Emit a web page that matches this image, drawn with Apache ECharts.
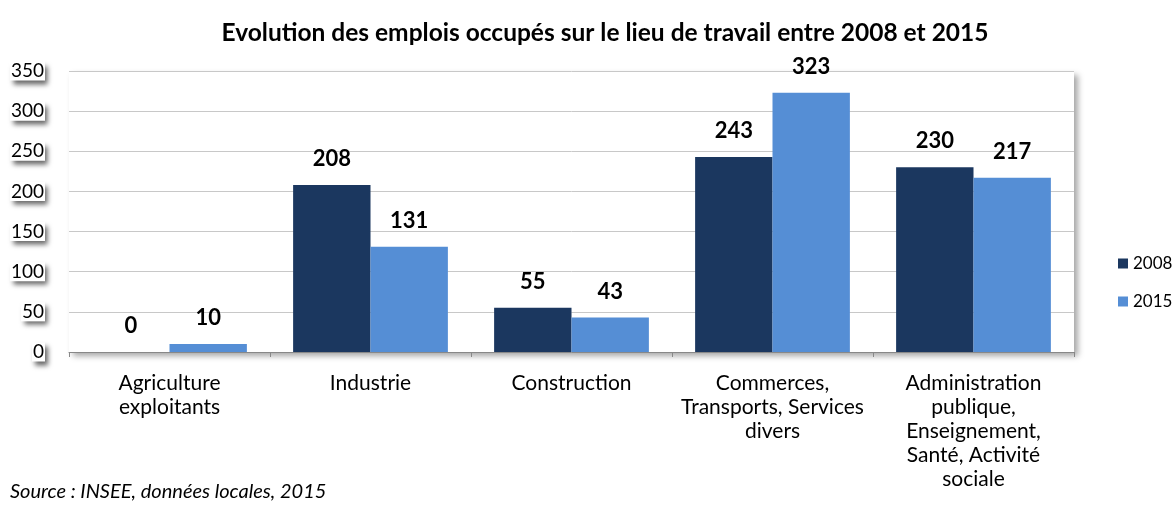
<!DOCTYPE html>
<html>
<head>
<meta charset="utf-8">
<script src="https://cdn.jsdelivr.net/npm/echarts@6/dist/echarts.min.js"></script>
<style>
  html, body { margin: 0; padding: 0; background: #fff; }
  #chart { width: 1176px; height: 506px; }
</style>
</head>
<body>
<div id="chart"></div>
<script>
// categories and values
const categories = [
  'Agriculture\nexploitants',
  'Industrie',
  'Construction',
  'Commerces,\nTransports, Services\ndivers',
  'Administration\npublique,\nEnseignement,\nSanté, Activité\nsociale'
]
const values2008 = [0, 208, 55, 243, 230]
const values2015 = [10, 131, 43, 323, 217]
const yTicks = [0, 50, 100, 150, 200, 250, 300, 350]

const font = 'Lato, "Open Sans", sans-serif'
const chart = echarts.init(document.getElementById('chart'))

const labelStyle = {
  show: true,
  position: 'top',
  distance: 15,
  color: '#000',
  fontWeight: 'bold',
  fontSize: 22,
  fontFamily: font
}

chart.setOption({
  animation: false,
  title: {
    text: 'Evolution des emplois occupés sur le lieu de travail entre 2008 et 2015',
    left: 600,
    textAlign: 'center',
    top: 16,
    textStyle: { fontSize: 24.5, fontWeight: 'bold', color: '#000', fontFamily: font }
  },
  graphic: [{
    type: 'text',
    left: 10,
    top: 482,
    style: {
      text: 'Source : INSEE, données locales, 2015',
      font: 'italic 20px ' + font,
      fill: '#000'
    }
  }],
  legend: {
    orient: 'vertical',
    left: 1113,
    top: 250,
    itemWidth: 10,
    itemHeight: 10,
    itemGap: 21,
    icon: 'rect',
    textStyle: { fontSize: 17, color: '#000', fontFamily: font },
    data: ['2008', '2015']
  },
  grid: {
    left: 69,
    right: 102,
    top: 71,
    bottom: 154,
    show: true,
    backgroundColor: '#fff',
    borderWidth: 0,
    shadowColor: 'rgba(0,0,0,0.35)',
    shadowBlur: 6,
    shadowOffsetX: 4,
    shadowOffsetY: 4
  },
  xAxis: {
    type: 'category',
    data: categories,
    axisLine: { lineStyle: { color: '#888', width: 1 } },
    axisTick: { show: true, length: 5, lineStyle: { color: '#888' } },
    axisLabel: {
      color: '#000',
      fontSize: 21,
      fontFamily: font,
      lineHeight: 24,
      margin: 19,
      interval: 0
    }
  },
  yAxis: {
    type: 'value',
    min: yTicks[0],
    max: yTicks[yTicks.length - 1],
    interval: 50,
    axisLine: { show: false },
    axisTick: { show: false },
    splitLine: { lineStyle: { color: '#c8c8c8', width: 1 } },
    axisLabel: {
      color: '#000',
      fontSize: 19,
      fontFamily: font,
      margin: 24,
      backgroundColor: '#fff',
      padding: [0, 1, 0, 1],
      shadowColor: 'rgba(0,0,0,0.6)',
      shadowBlur: 5,
      shadowOffsetX: 3,
      shadowOffsetY: 4
    }
  },
  series: [
    {
      name: '2008',
      type: 'bar',
      data: values2008,
      barGap: '0%',
      barCategoryGap: '23%',
      itemStyle: { color: '#1B375F' },
      label: labelStyle
    },
    {
      name: '2015',
      type: 'bar',
      data: values2015,
      itemStyle: { color: '#558ED5' },
      label: labelStyle
    }
  ]
})
</script>
</body>
</html>
